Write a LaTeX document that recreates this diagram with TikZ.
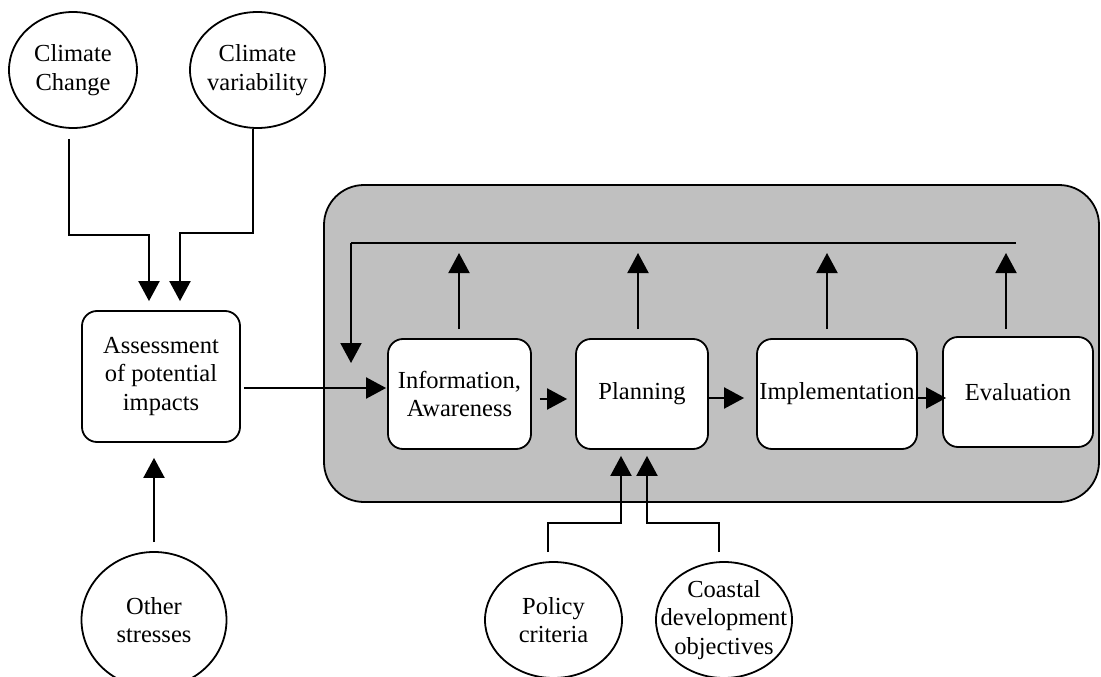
\documentclass[tikz,border=0pt]{standalone}
\usepackage{fontspec}
\setmainfont{Liberation Serif}
\usetikzlibrary{shapes.geometric,arrows.meta}
\definecolor{panelgray}{RGB}{192,192,192}
\tikzset{
  txt/.style={font=\fontsize{24.5}{28.5}\selectfont, align=center, inner sep=0pt},
  oval/.style={ellipse, draw, line width=1.8pt, fill=white, inner sep=0pt},
  stepbox/.style={txt, draw, line width=1.8pt, fill=white, rounded corners=15pt},
  arr/.style={line width=2pt, -{Triangle[length=20pt,width=21pt]}},
  ln/.style={line width=2pt}
}
\begin{document}
\begin{tikzpicture}[x=1pt,y=-1pt]
\useasboundingbox (0,0) rectangle (1101,677);
\clip (0,0) rectangle (1101,677);
% background panel
\node[draw, line width=1.8pt, fill=panelgray, rounded corners=40pt, minimum width=775pt, minimum height=317pt, inner sep=0pt] (bg) at (711.5,343.5) {};
% ellipses
\node[oval, minimum width=128pt, minimum height=116pt] (cc) at (73,70) {};
\node[txt] (cct) at (cc) {Climate\\Change};
\node[oval, minimum width=135pt, minimum height=116pt] (cv) at (257.5,70) {};
\node[txt] (cvt) at (cv) {Climate\\variability};
\node[oval, minimum width=145pt, minimum height=136pt] (other) at (154,620) {};
\node[txt] (othert) at (other) {Other\\stresses};
\node[oval, minimum width=137pt, minimum height=116pt] (policy) at (553.5,620) {};
\node[txt] (policyt) at (policy) {Policy\\criteria};
\node[oval, minimum width=136pt, minimum height=116pt] (coastal) at (724,620) {};
\node[txt] (coastalt) at (coastal) {Coastal\\development\\objectives};
% boxes
\node[stepbox, minimum width=158pt, minimum height=131pt] (assess) at (161,376.5) {Assessment\\of potential\\impacts};
\node[stepbox, minimum width=143pt, minimum height=110pt] (info) at (459.5,394) {Information,\\Awareness};
\node[stepbox, minimum width=132pt, minimum height=110pt] (plan) at (642,394) {Planning};
\node[stepbox, minimum width=160pt, minimum height=110pt] (impl) at (837,394) {Implementation};
\node[stepbox, minimum width=150pt, minimum height=110pt] (eval) at (1018,392) {Evaluation};
% inputs to assessment
\draw[arr] ([xshift=-4pt,yshift=-10pt]cc.south) |- ([xshift=-12pt]assess.north |- 0,235) -- ([xshift=-12pt,yshift=9pt]assess.north);
\draw[arr] ([xshift=-4.5pt]cv.south) |- ([xshift=19pt]assess.north |- 0,233) -- ([xshift=19pt,yshift=9pt]assess.north);
\draw[arr] ([yshift=9pt]other.north) -- ([yshift=-15pt]other.north |- assess.south);
\draw[arr] ([xshift=3pt,yshift=-11.5pt]assess.east) -- ([xshift=-1pt,yshift=6pt]info.west);
% chain
\draw[arr] ([xshift=8pt,yshift=-5pt]info.east) -- ([xshift=-8pt,yshift=-5pt]plan.west);
\draw[arr] ([yshift=-4pt]plan.east) -- ([xshift=-12pt,yshift=-4pt]impl.west);
\draw[arr] ([yshift=-4pt]impl.east) -- ([xshift=4pt,yshift=-6pt]eval.west);
% feedback
\coordinate (fbL) at (351,243);
\coordinate (fbR) at (1016,243);
\draw[ln] (fbR) -- (fbL);
\draw[arr] (fbL) -- (351,363);
\draw[arr] ([xshift=-0.5pt,yshift=9pt]info.north) -- ([xshift=-0.5pt]info.north |- 0,253);
\draw[arr] ([xshift=-4pt,yshift=9pt]plan.north) -- ([xshift=-4pt]plan.north |- 0,253);
\draw[arr] ([xshift=-10pt,yshift=9pt]impl.north) -- ([xshift=-10pt]impl.north |- 0,253);
\draw[arr] ([xshift=-12pt,yshift=7pt]eval.north) -- ([xshift=-12pt]eval.north |- 0,253);
% inputs to planning
\draw[arr] ([xshift=-5.5pt,yshift=9pt]policy.north) |- ([xshift=-21pt]plan.south |- 0,523) -- ([xshift=-21pt,yshift=-6pt]plan.south);
\draw[arr] ([xshift=-5pt,yshift=9pt]coastal.north) |- ([xshift=5pt]plan.south |- 0,523) -- ([xshift=5pt,yshift=-6pt]plan.south);
\end{tikzpicture}
\end{document}
